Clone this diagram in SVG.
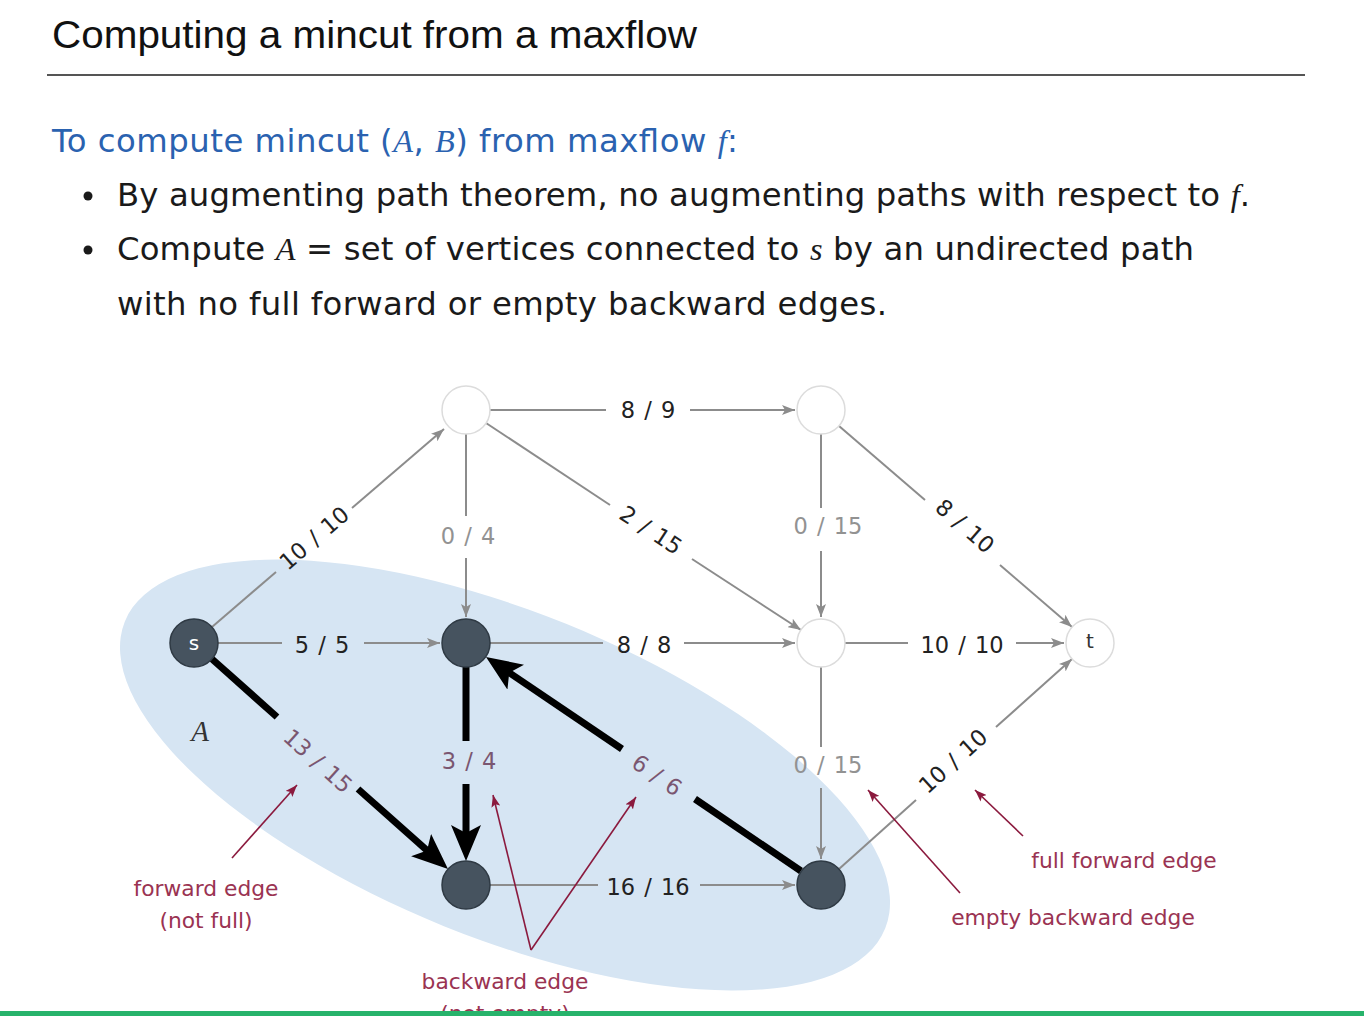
<svg xmlns="http://www.w3.org/2000/svg" width="1364" height="1016" viewBox="0 0 1364 1016">
<style>
.title{font-family:"Liberation Sans",Arial,sans-serif;font-size:38px;fill:#111}
.body{font-family:"DejaVu Sans","Noto Sans",sans-serif;font-size:32.3px;fill:#1a1a1a}
.blue{fill:#2a62b0}
.it{font-family:"Liberation Serif",serif;font-style:italic}
.lbl{font-family:"DejaVu Sans","Noto Sans",sans-serif;font-size:22.5px;word-spacing:2px;fill:#222;text-anchor:middle;dominant-baseline:central}
.lg{fill:#929292}
.lp{fill:#7a5670}
.ann{font-family:"DejaVu Sans","Noto Sans",sans-serif;font-size:21.8px;fill:#9a3352;text-anchor:middle}
.e{stroke:#8c8c8c;stroke-width:2;fill:none}
.ea{marker-end:url(#ga)}
.thick{stroke:#000;stroke-width:7;fill:none}
.ta{marker-end:url(#ba)}
.red{stroke:#8b1a3e;stroke-width:1.6;fill:none;marker-end:url(#ra)}
.dark{fill:#46535f;stroke:#2f3a44;stroke-width:1.5}
.white{fill:#fff;stroke:#dcdcdc;stroke-width:1.5}
</style>
<defs>
<marker id="ga" markerUnits="userSpaceOnUse" markerWidth="13" markerHeight="10" refX="13" refY="5" orient="auto"><path d="M0,0 L13,5 L0,10 L3,5 z" fill="#8c8c8c"/></marker>
<marker id="ba" markerUnits="userSpaceOnUse" markerWidth="36" markerHeight="30" refX="26" refY="15" orient="auto"><path d="M0,0 L36,15 L0,30 L8,15 z" fill="#000"/></marker>
<marker id="ra" markerUnits="userSpaceOnUse" markerWidth="12" markerHeight="9" refX="12" refY="4.5" orient="auto"><path d="M0,0 L12,4.5 L0,9 L2.5,4.5 z" fill="#8b1a3e"/></marker>
</defs>
<rect width="1364" height="1016" fill="#fff"/>
<text class="title" x="52" y="48" textLength="645" lengthAdjust="spacingAndGlyphs">Computing a mincut from a maxflow</text>
<line x1="47" y1="75" x2="1305" y2="75" stroke="#555" stroke-width="2"/>
<text class="body blue" x="52" y="152" textLength="686">To compute mincut (<tspan class="it">A</tspan>, <tspan class="it">B</tspan>) from maxflow <tspan class="it">f</tspan>:</text>
<circle cx="88" cy="196" r="4.5" fill="#1a1a1a"/>
<circle cx="88" cy="250" r="4.5" fill="#1a1a1a"/>
<text class="body" x="117" y="206" textLength="1133">By augmenting path theorem, no augmenting paths with respect to <tspan class="it">f</tspan>.</text>
<text class="body" x="117" y="260" textLength="1077">Compute <tspan class="it">A</tspan> = set of vertices connected to <tspan class="it">s</tspan> by an undirected path</text>
<text class="body" x="117" y="315" textLength="770">with no full forward or empty backward edges.</text>
<ellipse id="setA" cx="505" cy="775" rx="410" ry="163" transform="rotate(22 505 775)" fill="#d6e5f3"/>
<text x="200" y="741" font-family="Liberation Serif,serif" font-style="italic" font-size="29" fill="#333" text-anchor="middle">A</text>
<g id="connectors">
<line class="e" x1="212" y1="627" x2="276" y2="572"/><line class="e ea" x1="352" y1="508" x2="444" y2="429"/>
<line class="e" x1="218" y1="643" x2="282" y2="643"/><line class="e ea" x1="364" y1="643" x2="440" y2="643"/>
<line class="e" x1="490" y1="410" x2="606" y2="410"/><line class="e ea" x1="690" y1="410" x2="795" y2="410"/>
<line class="e" x1="466" y1="434" x2="466" y2="516"/><line class="e ea" x1="466" y1="558" x2="466" y2="617"/>
<line class="e" x1="486" y1="423" x2="610" y2="505"/><line class="e ea" x1="692" y1="559" x2="801" y2="630"/>
<line class="e" x1="821" y1="434" x2="821" y2="508"/><line class="e ea" x1="821" y1="551" x2="821" y2="617"/>
<line class="e" x1="839" y1="426" x2="925" y2="500"/><line class="e ea" x1="1000" y1="565" x2="1072" y2="627"/>
<line class="e" x1="490" y1="643" x2="603" y2="643"/><line class="e ea" x1="684" y1="643" x2="795" y2="643"/>
<line class="e" x1="845" y1="643" x2="908" y2="643"/><line class="e ea" x1="1016" y1="643" x2="1064" y2="643"/>
<line class="e" x1="821" y1="667" x2="821" y2="747"/><line class="e ea" x1="821" y1="788" x2="821" y2="859"/>
<line class="e" x1="839" y1="869" x2="916" y2="800"/><line class="e ea" x1="996" y1="727" x2="1072" y2="659"/>
<line class="e" x1="490" y1="885" x2="598" y2="885"/><line class="e ea" x1="700" y1="885" x2="795" y2="885"/>
<line class="thick" x1="212" y1="659" x2="277" y2="717"/><line class="thick ta" x1="358" y1="789" x2="440.5" y2="862.4"/>
<line class="thick" x1="466" y1="667" x2="466" y2="741"/><line class="thick ta" x1="466" y1="784" x2="466" y2="851"/>
<line class="thick" x1="801" y1="871" x2="695" y2="799"/><line class="thick ta" x1="622" y1="749" x2="494.3" y2="662.6"/>
</g>
<g id="edge-labels">
<text class="lbl" transform="translate(314,538) rotate(-40.6)">10 / 10</text>
<text class="lbl" x="322" y="645">5 / 5</text>
<text class="lbl" x="648" y="410">8 / 9</text>
<text class="lbl lg" x="468" y="536">0 / 4</text>
<text class="lbl" transform="translate(651,530) rotate(33.3)">2 / 15</text>
<text class="lbl lg" x="828" y="526">0 / 15</text>
<text class="lbl" transform="translate(965,526) rotate(40.9)">8 / 10</text>
<text class="lbl" x="644" y="645">8 / 8</text>
<text class="lbl" x="962" y="645">10 / 10</text>
<text class="lbl lg" x="828" y="765">0 / 15</text>
<text class="lbl" transform="translate(953,761) rotate(-42)">10 / 10</text>
<text class="lbl" x="648" y="887">16 / 16</text>
<text class="lbl lp" transform="translate(318,761) rotate(41.7)">13 / 15</text>
<text class="lbl lp" x="469" y="761">3 / 4</text>
<text class="lbl lp" transform="translate(657,775) rotate(34.3)">6 / 6</text>
</g>
<g id="node-s"><circle class="dark" cx="194" cy="643" r="24"/><text x="194" y="643" font-family="DejaVu Sans,sans-serif" font-size="20" fill="#fff" text-anchor="middle" dominant-baseline="central">s</text></g>
<g id="node-tl"><circle class="white" cx="466" cy="410" r="24"/></g>
<g id="node-tr"><circle class="white" cx="821" cy="410" r="24"/></g>
<g id="node-m"><circle class="dark" cx="466" cy="643" r="24"/></g>
<g id="node-mr"><circle class="white" cx="821" cy="643" r="24"/></g>
<g id="node-t"><circle class="white" cx="1090" cy="643" r="24"/><text x="1090" y="641" font-family="DejaVu Sans,sans-serif" font-size="20" fill="#333" text-anchor="middle" dominant-baseline="central">t</text></g>
<g id="node-bl"><circle class="dark" cx="466" cy="885" r="24"/></g>
<g id="node-br"><circle class="dark" cx="821" cy="885" r="24"/></g>
<g id="annotations">
<line class="red" x1="232" y1="858" x2="297" y2="785"/>
<line class="red" x1="531" y1="950" x2="493" y2="795"/>
<line class="red" x1="531" y1="950" x2="636" y2="797"/>
<line class="red" x1="960" y1="893" x2="868" y2="790"/>
<line class="red" x1="1023" y1="836" x2="975" y2="790"/>
<text class="ann" x="206" y="896">forward edge</text>
<text class="ann" x="206" y="928">(not full)</text>
<text class="ann" x="505" y="989">backward edge</text>
<text class="ann" x="505" y="1021">(not empty)</text>
<text class="ann" x="1124" y="868">full forward edge</text>
<text class="ann" x="1073" y="925">empty backward edge</text>
</g>
<rect x="0" y="1011" width="1364" height="5" fill="#27b36b"/>
</svg>
